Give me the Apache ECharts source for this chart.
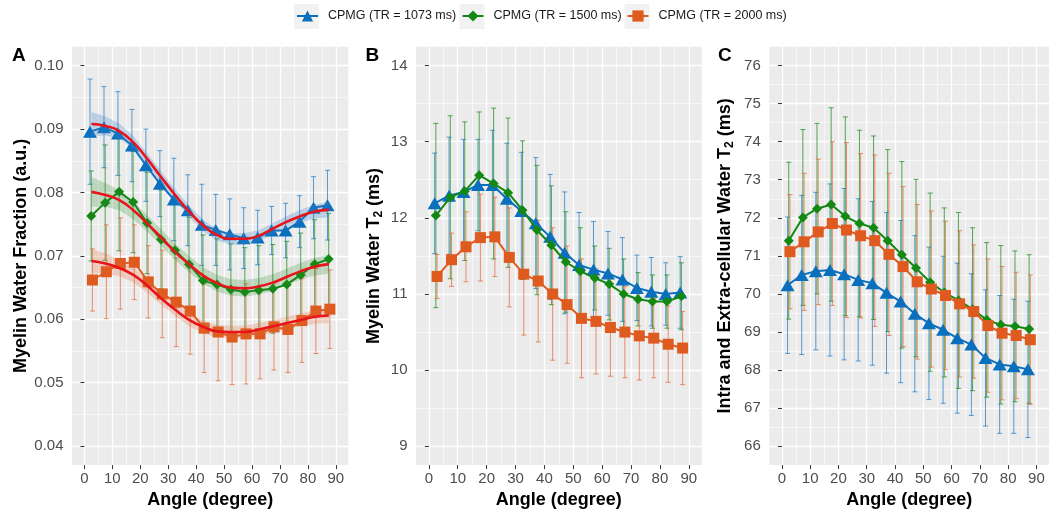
<!DOCTYPE html>
<html><head><meta charset="utf-8">
<script src="https://cdn.jsdelivr.net/npm/echarts@6/dist/echarts.min.js"></script>
<style>html,body{margin:0;padding:0;background:#fff}#c{width:1049px;height:514px}</style>
</head><body><div id="c"></div>
<script>
// ---------- DATA ----------
const angles = [2.5,7.5,12.5,17.5,22.5,27.5,32.5,37.5,42.5,47.5,52.5,57.5,62.5,67.5,72.5,77.5,82.5,87.5];
const groupNames = ['CPMG (TR = 1073 ms)','CPMG (TR = 1500 ms)','CPMG (TR = 2000 ms)'];
const xTickValues = [0,10,20,30,40,50,60,70,80,90];
const xMinorValues = [5,15,25,35,45,55,65,75,85];

// Panel A: myelin water fraction
const mwf1073 = [0.0896,0.0903,0.0893,0.0874,0.0843,0.0814,0.0789,0.0772,0.0749,0.0741,0.0734,0.0728,0.0729,0.0740,0.0740,0.0754,0.0776,0.0780];
const mwf1073Sd = [0.0083,0.0064,0.0066,0.0057,0.0057,0.0052,0.0065,0.0056,0.0064,0.0056,0.0056,0.0048,0.0043,0.0038,0.0043,0.0041,0.0049,0.0055];
const mwf1500 = [0.0763,0.0784,0.0801,0.0785,0.0752,0.0726,0.0709,0.0687,0.0661,0.0655,0.0647,0.0643,0.0646,0.0648,0.0655,0.0670,0.0687,0.0695];
const mwf1500Sd = [0.0071,0.0091,0.0093,0.0080,0.0080,0.0078,0.0076,0.0074,0.0072,0.0072,0.0072,0.0070,0.0070,0.0070,0.0068,0.0066,0.0070,0.0072];
const mwf2000 = [0.0662,0.0675,0.0688,0.0690,0.0659,0.0640,0.0627,0.0613,0.0586,0.0580,0.0572,0.0577,0.0577,0.0588,0.0584,0.0598,0.0613,0.0616];
const mwf2000Sd = [0.0049,0.0074,0.0072,0.0059,0.0057,0.0069,0.0070,0.0068,0.0070,0.0077,0.0075,0.0079,0.0071,0.0068,0.0068,0.0066,0.0067,0.0062];
// Panel A fitted curves and their confidence half-widths
const mwfFit1073 = [0.0908,0.0905,0.0897,0.0879,0.0853,0.0824,0.0796,0.0770,0.0748,0.0733,0.0727,0.0727,0.0732,0.0743,0.0754,0.0763,0.0770,0.0773];
const mwfFit1073Ci = [0.0019,0.0015,0.0012,0.0010,0.0009,0.0009,0.0009,0.0009,0.0009,0.0009,0.0009,0.0009,0.0009,0.0009,0.0009,0.0010,0.0011,0.0012];
const mwfFit1500 = [0.0801,0.0796,0.0788,0.0772,0.0751,0.0729,0.0706,0.0687,0.0669,0.0657,0.0650,0.0649,0.0652,0.0658,0.0667,0.0676,0.0683,0.0687];
const mwfFit1500Ci = [0.0023,0.0019,0.0016,0.0014,0.0013,0.0013,0.0013,0.0013,0.0013,0.0013,0.0013,0.0013,0.0013,0.0013,0.0013,0.0013,0.0014,0.0015];
const mwfFit2000 = [0.0692,0.0688,0.0681,0.0670,0.0653,0.0633,0.0615,0.0599,0.0588,0.0581,0.0580,0.0580,0.0584,0.0589,0.0594,0.0599,0.0604,0.0606];
const mwfFit2000Ci = [0.0019,0.0016,0.0013,0.0012,0.0011,0.0010,0.0010,0.0010,0.0010,0.0010,0.0010,0.0010,0.0010,0.0010,0.0010,0.0010,0.0011,0.0012];
const mwfTicks = [0.04,0.05,0.06,0.07,0.08,0.09,0.10];
const mwfMinor = [0.045,0.055,0.065,0.075,0.085,0.095];

// Panel B: myelin water T2
const mwT2_1073 = [12.19,12.29,12.34,12.43,12.43,12.25,12.09,11.93,11.75,11.54,11.38,11.32,11.27,11.19,11.08,11.03,11.00,11.02];
const mwT2_1073Sd = [0.66,0.77,0.69,0.60,0.72,0.73,0.77,0.86,0.82,0.80,0.69,0.63,0.55,0.55,0.43,0.45,0.41,0.47];
const mwT2_1500 = [12.03,12.27,12.35,12.56,12.45,12.33,12.10,11.84,11.64,11.42,11.30,11.21,11.13,11.00,10.93,10.90,10.90,10.97];
const mwT2_1500Sd = [1.21,1.07,0.91,0.83,0.99,0.98,0.91,0.85,0.78,0.66,0.57,0.42,0.47,0.46,0.35,0.35,0.35,0.44];
const mwT2_2000 = [11.23,11.45,11.62,11.74,11.75,11.48,11.26,11.17,11.00,10.86,10.68,10.64,10.56,10.50,10.45,10.42,10.34,10.29];
const mwT2_2000Sd = [0.29,0.35,0.46,0.57,0.52,0.65,0.80,0.80,0.87,0.77,0.78,0.69,0.64,0.60,0.58,0.52,0.50,0.48];
const mwT2Ticks = [9,10,11,12,13,14];
const mwT2Minor = [9.5,10.5,11.5,12.5,13.5];

// Panel C: intra and extra-cellular water T2
const ieT2_1073 = [70.23,70.50,70.60,70.63,70.52,70.37,70.28,70.03,69.80,69.48,69.23,69.06,68.84,68.67,68.32,68.15,68.10,68.02];
const ieT2_1073Sd = [1.79,2.09,2.07,2.26,2.25,2.13,2.15,2.11,2.13,2.05,2.00,1.93,1.97,1.86,1.79,1.81,1.76,1.79];
const ieT2_1500 = [71.40,72.01,72.24,72.35,72.04,71.85,71.74,71.40,71.03,70.68,70.31,70.04,69.83,69.60,69.32,69.19,69.15,69.08];
const ieT2_1500Sd = [2.06,2.31,2.24,2.54,2.61,2.45,2.41,2.39,2.45,2.33,2.34,2.22,2.31,2.14,2.03,2.08,1.98,1.95];
const ieT2_2000 = [71.11,71.37,71.63,71.85,71.68,71.53,71.40,71.04,70.72,70.32,70.13,69.96,69.74,69.54,69.17,68.97,68.91,68.80];
const ieT2_2000Sd = [1.50,1.80,1.91,2.15,2.30,2.16,2.25,2.13,2.10,2.03,2.05,1.95,1.92,1.75,1.75,1.75,1.66,1.70];
const ieT2Ticks = [66,67,68,69,70,71,72,73,74,75,76];
const ieT2Minor = [66.5,67.5,68.5,69.5,70.5,71.5,72.5,73.5,74.5,75.5];

// ---------- STYLE ----------
const FONT = '"Liberation Sans", Arial, Helvetica, sans-serif';
const colors = ['#0A6FBD', '#138913', '#DF5A1F'];
const barColors = ['rgba(35,125,200,0.75)', 'rgba(30,140,30,0.75)', 'rgba(228,100,50,0.7)'];
const bandColors = ['rgba(60,130,200,0.28)', 'rgba(40,140,40,0.24)', 'rgba(225,100,50,0.24)'];
const symbols = ['triangle', 'diamond', 'rect'];
const symbolSizes = [[14, 12], 10, 11];
const dodge = [-0.5, -0.08, 0.35];
const fitColor = '#E8141A';
const X_MIN = -4.45, X_MAX = 94.45;

const panels = [
  { grid: {left: 72, top: 46.7, width: 276.3, height: 421.6},
    yMin: 0.037, yMax: 0.103, ticks: mwfTicks, minor: mwfMinor, fmt: v => v.toFixed(2),
    name: 'Myelin Water Fraction (a.u.)', nameGap: 41,
    means: [mwf1073, mwf1500, mwf2000], sds: [mwf1073Sd, mwf1500Sd, mwf2000Sd],
    fits: [mwfFit1073, mwfFit1500, mwfFit2000], cis: [mwfFit1073Ci, mwfFit1500Ci, mwfFit2000Ci] },
  { grid: {left: 416, top: 46.7, width: 285.7, height: 421.6},
    yMin: 8.753, yMax: 14.247, ticks: mwT2Ticks, minor: mwT2Minor, fmt: v => String(Math.round(v)),
    name: '{b|Myelin Water T}{s|2}{b| (ms)}', nameGap: 31,
    means: [mwT2_1073, mwT2_1500, mwT2_2000], sds: [mwT2_1073Sd, mwT2_1500Sd, mwT2_2000Sd] },
  { grid: {left: 769.3, top: 46.7, width: 285.7, height: 421.6},
    yMin: 65.506, yMax: 76.494, ticks: ieT2Ticks, minor: ieT2Minor, fmt: v => String(Math.round(v)),
    name: '{b|Intra and Extra-cellular Water T}{s|2}{b| (ms)}', nameGap: 34,
    means: [ieT2_1073, ieT2_1500, ieT2_2000], sds: [ieT2_1073Sd, ieT2_1500Sd, ieT2_2000Sd] }
];

const titleRich = {
  b: {fontSize: 18, fontWeight: 'bold', color: '#000', fontFamily: FONT},
  s: {fontSize: 12, fontWeight: 'bold', color: '#000', fontFamily: FONT, padding: [9, 0, 0, 0]}
};

const grids = [], xAxes = [], yAxes = [], series = [];
panels.forEach((p, pi) => {
  grids.push(Object.assign({show: true, backgroundColor: '#EBEBEB', borderWidth: 0, containLabel: false}, p.grid));
  const xi = xAxes.length, yi = yAxes.length;
  xAxes.push({
    type: 'value', gridIndex: pi, min: X_MIN, max: X_MAX,
    name: 'Angle (degree)', nameLocation: 'middle', nameGap: 25,
    nameTextStyle: {fontSize: 18, fontWeight: 'bold', color: '#000', fontFamily: FONT},
    axisLine: {show: false},
    axisTick: {show: true, length: 4, customValues: xTickValues, lineStyle: {color: '#333', width: 1}},
    axisLabel: {show: true, customValues: xTickValues, margin: 6, fontSize: 15, color: '#4D4D4D', fontFamily: FONT,
      formatter: v => (Math.abs(v % 10) < 1e-6 ? String(v) : '')},
    splitLine: {show: true, lineStyle: {color: '#FFFFFF', width: 1.3}}
  });
  xAxes.push({
    type: 'value', gridIndex: pi, min: X_MIN, max: X_MAX,
    axisLine: {show: false}, axisLabel: {show: false},
    axisTick: {show: false, customValues: xMinorValues},
    splitLine: {show: true, lineStyle: {color: '#FFFFFF', width: 0.6}}
  });
  yAxes.push({
    type: 'value', gridIndex: pi, min: p.yMin, max: p.yMax,
    name: p.name, nameLocation: 'middle', nameGap: p.nameGap, nameRotate: 90,
    nameTextStyle: {fontSize: 18, fontWeight: 'bold', color: '#000', fontFamily: FONT, rich: titleRich},
    axisLine: {show: false},
    axisTick: {show: true, length: 4, customValues: p.ticks, lineStyle: {color: '#333', width: 1}},
    axisLabel: {show: true, customValues: p.ticks, margin: 8.5, fontSize: 15, color: '#4D4D4D', fontFamily: FONT,
      formatter: v => p.fmt(v)},
    splitLine: {show: true, lineStyle: {color: '#FFFFFF', width: 1.3}}
  });
  yAxes.push({
    type: 'value', gridIndex: pi, min: p.yMin, max: p.yMax, position: 'left',
    axisLine: {show: false}, axisLabel: {show: false},
    axisTick: {show: false, customValues: p.minor},
    splitLine: {show: true, lineStyle: {color: '#FFFFFF', width: 0.6}}
  });

  // connected points (first, so legend icons come from these)
  p.means.forEach((m, gi) => {
    series.push({
      type: 'line', name: groupNames[gi], xAxisIndex: xi, yAxisIndex: yi,
      data: angles.map((a, i) => [a + dodge[gi], m[i]]),
      symbol: symbols[gi], symbolSize: symbolSizes[gi], showSymbol: true,
      lineStyle: {color: colors[gi], width: 2}, itemStyle: {color: colors[gi]},
      z: 4 + gi * 0.1, silent: true
    });
  });
  // error bars
  p.means.forEach((m, gi) => {
    series.push({
      type: 'custom', xAxisIndex: xi, yAxisIndex: yi, z: 2, silent: true,
      data: angles.map((a, i) => [a + dodge[gi], m[i], p.sds[gi][i]]),
      encode: {x: 0, y: 1},
      renderItem: (params, api) => {
        const x = api.value(0), mean = api.value(1), sd = api.value(2);
        const top = api.coord([x, mean + sd]);
        const bot = api.coord([x, mean - sd]);
        const w = 2.5;
        const st = {stroke: barColors[gi], lineWidth: 1};
        return {type: 'group', children: [
          {type: 'line', shape: {x1: top[0], y1: top[1], x2: bot[0], y2: bot[1]}, style: st},
          {type: 'line', shape: {x1: top[0] - w, y1: top[1], x2: top[0] + w, y2: top[1]}, style: st},
          {type: 'line', shape: {x1: bot[0] - w, y1: bot[1], x2: bot[0] + w, y2: bot[1]}, style: st}
        ]};
      }
    });
  });
  // fitted curves with confidence bands (panel A)
  if (p.fits) {
    p.fits.forEach((f, gi) => {
      const ci = p.cis[gi];
      series.push({
        type: 'custom', xAxisIndex: xi, yAxisIndex: yi, z: 5, silent: true,
        data: [[angles[0], f[0]]], encode: {x: 0, y: 1},
        renderItem: (params, api) => {
          const upper = angles.map((a, i) => api.coord([a, f[i] + ci[i]]));
          const lower = angles.map((a, i) => api.coord([a, f[i] - ci[i]])).reverse();
          return {type: 'polygon', shape: {points: upper.concat(lower)}, style: {fill: bandColors[gi]}};
        }
      });
    });
    p.fits.forEach((f, gi) => {
      series.push({
        type: 'line', xAxisIndex: xi, yAxisIndex: yi, smooth: true, silent: true,
        data: angles.map((a, i) => [a, f[i]]), symbol: 'none',
        lineStyle: {color: fitColor, width: 2.6}, z: 6
      });
    });
  }
});

const keyX = [294, 459.5, 624.5];
const legends = groupNames.map((n, i) => ({
  data: [n], left: keyX[i] + 2, top: 9.5, padding: 0, itemWidth: 21, itemHeight: 14, itemGap: 0,
  selectedMode: false,
  textStyle: {fontSize: 12.5, color: '#1A1A1A', fontFamily: FONT, padding: [0, 0, 0, 5]}
}));

const graphics = keyX.map(x => ({type: 'rect', z: -1, shape: {x: x, y: 4, width: 25, height: 25}, style: {fill: '#F2F2F2'}}));
[['A', 12], ['B', 365.5], ['C', 718]].forEach(([t, x]) => {
  graphics.push({type: 'text', left: x, top: 46, style: {text: t, font: 'bold 19px ' + FONT, fill: '#000'}});
});

const chart = echarts.init(document.getElementById('c'), null, {renderer: 'canvas'});
chart.setOption({
  animation: false,
  backgroundColor: '#FFFFFF',
  grid: grids, xAxis: xAxes, yAxis: yAxes,
  legend: legends,
  graphic: graphics,
  series: series
});
</script>
</body></html>
